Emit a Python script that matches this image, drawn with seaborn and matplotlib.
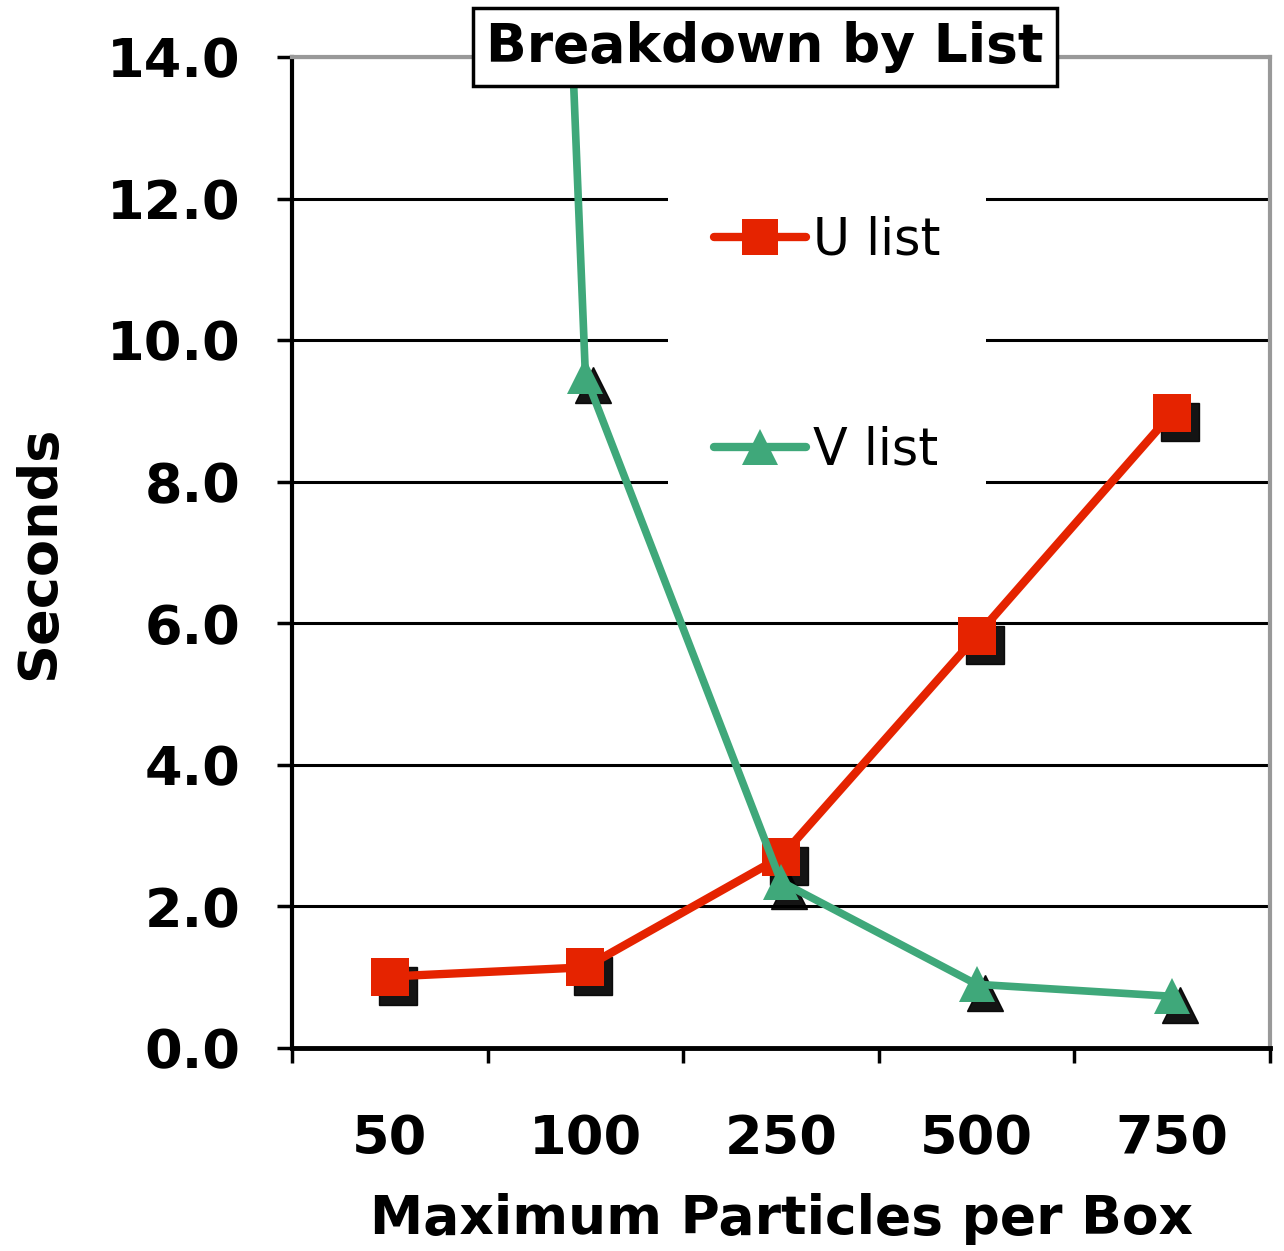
import numpy as np
import pandas as pd
import matplotlib
matplotlib.use("Agg")
import matplotlib.pyplot as plt
import matplotlib.transforms as mtransforms
from matplotlib.lines import Line2D
import seaborn as sns

# Data
particles = ["50", "100", "250", "500", "750"]
u_list = [1.01, 1.14, 2.70, 5.82, 8.97]
v_list = [78.0, 9.5, 2.35, 0.90, 0.73]
y_ticks = [0.0, 2.0, 4.0, 6.0, 8.0, 10.0, 12.0, 14.0]

RED = "#E52300"
GREEN = "#3FA87A"

sns.set_theme(style="white")
plt.rcParams["font.family"] = ["DejaVu Sans"]
plt.rcParams["text.color"] = "black"
plt.rcParams["axes.labelcolor"] = "black"
plt.rcParams["xtick.color"] = "black"
plt.rcParams["ytick.color"] = "black"

df = pd.DataFrame({
    "pos": list(range(len(particles))) * 2,
    "Seconds": u_list + v_list,
    "series": ["U list"] * len(particles) + ["V list"] * len(particles),
})

fig = plt.figure(figsize=(12.84, 12.51), dpi=100)
ax = fig.add_axes([292 / 1284, 1 - 1048 / 1251, (1270 - 292) / 1284, (1048 - 57) / 1251])

# drop shadows behind the markers
shadow = mtransforms.offset_copy(ax.transData, fig=fig, x=8, y=-9, units="dots")
for name, marker, ms in [("U list", "s", 28), ("V list", "^", 26)]:
    sub = df[df.series == name]
    ax.plot(sub.pos, sub.Seconds, linestyle="none", marker=marker, markersize=ms,
            color="black", alpha=0.92, transform=shadow, zorder=3)

sns.lineplot(data=df[df.series == "U list"], x="pos", y="Seconds", ax=ax,
             color=RED, linewidth=6, marker="s", markersize=28,
             markeredgewidth=0, legend=False, zorder=4)
sns.lineplot(data=df[df.series == "V list"], x="pos", y="Seconds", ax=ax,
             color=GREEN, linewidth=5.5, marker="^", markersize=26,
             markeredgewidth=0, legend=False, zorder=5)

ax.set_xlim(-0.5, len(particles) - 0.5)
ax.set_ylim(0, 14)
ax.set_yticks(y_ticks)
ax.set_yticklabels([f"{t:.1f}" for t in y_ticks])
ax.set_xticks(range(len(particles)))
ax.set_xticklabels(particles)
ax.set_xticks(np.arange(-0.5, len(particles), 1.0), minor=True)

ax.yaxis.grid(True, color="black", linewidth=2.2)
ax.set_axisbelow(True)

for side in ["left", "bottom"]:
    ax.spines[side].set_color("black")
ax.spines["left"].set_linewidth(3)
ax.spines["bottom"].set_linewidth(3.5)
for side in ["top", "right"]:
    ax.spines[side].set_color("#999999")
    ax.spines[side].set_linewidth(3)

ax.tick_params(axis="y", which="major", direction="out", length=11, width=2.5,
               color="black", left=True, pad=26, labelsize=39)
ax.tick_params(axis="x", which="major", length=0, pad=47, labelsize=39)
ax.tick_params(axis="x", which="minor", direction="out", length=11, width=2.5,
               color="black", bottom=True)
for lab in ax.get_xticklabels() + ax.get_yticklabels():
    lab.set_fontweight("bold")

ax.set_xlabel("Maximum Particles per Box", fontsize=38.5, fontweight="bold", labelpad=20)
ax.set_ylabel("Seconds", fontsize=39, fontweight="bold", labelpad=30)

handles = [
    Line2D([], [], color=RED, linewidth=6, marker="s", markersize=26, markeredgewidth=0),
    Line2D([], [], color=GREEN, linewidth=6, marker="^", markersize=26, markeredgewidth=0),
]
leg = ax.legend(handles, ["U list", "V list"], loc="upper left",
                bbox_to_anchor=((668 - 292) / 978, 1 - (170 - 57) / 991),
                frameon=True, fancybox=False, fontsize=36.5, labelspacing=3.15,
                handlelength=1.82, handletextpad=0.14, borderpad=0.9,
                borderaxespad=0, framealpha=1)
leg.get_frame().set_facecolor("white")
leg.get_frame().set_edgecolor("white")
leg.get_frame().set_linewidth(0)
leg.set_zorder(6)

ax.text(0.5 - 16 / 978, 1.0 + 10 / 991, "Breakdown by List", transform=ax.transAxes,
        ha="center", va="center", fontsize=38.5, fontweight="bold",
        bbox=dict(boxstyle="square,pad=0.25", facecolor="white", edgecolor="black",
                  linewidth=2.5), zorder=10, clip_on=False)

fig.savefig("out.png", dpi=100)
